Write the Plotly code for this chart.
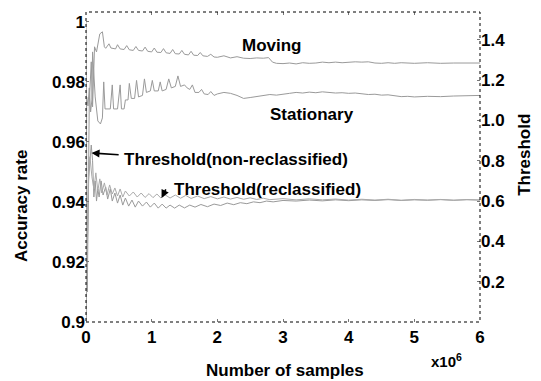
import plotly.graph_objects as go

# ---------------- data (x in units of 10^6 samples) ----------------
moving_x = [0.00, 0.02, 0.05, 0.08, 0.10, 0.13, 0.16, 0.21, 0.25, 0.28,
            0.30, 0.35, 0.38, 0.45, 0.48, 0.52, 0.58, 0.62, 0.66, 0.72, 0.76, 0.80,
            0.86, 0.90, 0.94, 1.00, 1.04, 1.08, 1.14, 1.18, 1.22, 1.28, 1.32, 1.36,
            1.42, 1.46, 1.50, 1.56, 1.60, 1.64, 1.70, 1.74, 1.78, 1.85, 1.90, 1.95,
            2.00, 2.10, 2.20, 2.30, 2.40, 2.50, 2.60, 2.70, 2.78, 2.84, 2.90, 3.00,
            3.10, 3.20, 3.30, 3.40, 3.50, 3.60, 3.70, 3.80, 3.90, 4.00, 4.10, 4.20,
            4.30, 4.40, 4.50, 4.60, 4.70, 4.80, 4.90, 5.00, 5.20, 5.40, 5.60, 5.80, 6.00]
moving_y = [1.000, 0.910, 0.973, 0.9867, 0.9717, 0.9917, 0.9900, 0.9960, 0.9967, 0.9917,
            0.9912, 0.9927, 0.9913, 0.9910, 0.9924, 0.9910, 0.9908, 0.9921, 0.9907, 0.9905, 0.9918, 0.9905,
            0.9903, 0.9916, 0.9902, 0.9900, 0.9913, 0.9899, 0.9898, 0.9911, 0.9897, 0.9895, 0.9908, 0.9894,
            0.9893, 0.9905, 0.9892, 0.9890, 0.9902, 0.9889, 0.9888, 0.9898, 0.9887, 0.9885, 0.9892, 0.9883,
            0.9882, 0.9887, 0.9880, 0.9884, 0.9879, 0.9878, 0.9880, 0.9879, 0.9881, 0.9866, 0.9862, 0.9861,
            0.9863, 0.9860, 0.9864, 0.9862, 0.9863, 0.9866, 0.9864, 0.9866, 0.9864, 0.9866, 0.9867, 0.9866,
            0.9867, 0.9863, 0.9862, 0.9864, 0.9862, 0.9864, 0.9863, 0.9862, 0.9864, 0.9862, 0.9863, 0.9862, 0.9863]

stat_x = [0.00, 0.01, 0.03, 0.05, 0.07, 0.09, 0.10, 0.14, 0.18, 0.22, 0.25, 0.27, 0.29,
          0.33, 0.37, 0.40, 0.42, 0.48, 0.52, 0.54, 0.58, 0.60, 0.64, 0.66, 0.69, 0.74,
          0.77, 0.80, 0.86, 0.89, 0.92, 0.98, 1.01, 1.04, 1.10, 1.13, 1.16, 1.22, 1.26,
          1.30, 1.36, 1.40, 1.44, 1.50, 1.54, 1.58, 1.62, 1.66, 1.72, 1.76, 1.80, 1.86,
          1.90, 1.95, 2.00, 2.10, 2.20, 2.30, 2.40, 2.50, 2.60, 2.70, 2.80, 2.90, 3.00,
          3.10, 3.20, 3.30, 3.40, 3.50, 3.60, 3.70, 3.80, 3.90, 4.00, 4.10, 4.20, 4.30,
          4.40, 4.50, 4.60, 4.70, 4.80, 4.90, 5.00, 5.20, 5.40, 5.60, 5.80, 6.00]
stat_y = [0.900, 0.975, 0.972, 0.978, 0.970, 0.974, 0.990, 0.975, 0.967, 0.966, 0.968, 0.980, 0.971,
          0.971, 0.971, 0.979, 0.971, 0.971, 0.979, 0.971, 0.971, 0.974, 0.974, 0.9795, 0.9745, 0.9745,
          0.9805, 0.9750, 0.9755, 0.9810, 0.9765, 0.9770, 0.9805, 0.9770, 0.9770, 0.9800, 0.9770, 0.9775, 0.9810,
          0.9780, 0.9785, 0.9820, 0.9785, 0.9790, 0.9780, 0.9775, 0.9790, 0.9765, 0.9765, 0.9775, 0.9760, 0.9758,
          0.9768, 0.9755, 0.9760, 0.9765, 0.9762, 0.9755, 0.9745, 0.9748, 0.9752, 0.9755, 0.9758, 0.9756, 0.9760,
          0.9762, 0.9765, 0.9763, 0.9766, 0.9764, 0.9767, 0.9765, 0.9763, 0.9764, 0.9762, 0.9763, 0.9760, 0.9758,
          0.9759, 0.9756, 0.9757, 0.9753, 0.9751, 0.9752, 0.9750, 0.9752, 0.9751, 0.9753, 0.9754, 0.9755]

thr_non_x = [0.00, 0.02, 0.04, 0.06, 0.08, 0.10, 0.12, 0.14, 0.16, 0.18, 0.20, 0.23, 0.26,
             0.30, 0.33, 0.37, 0.40, 0.44, 0.48, 0.52, 0.56, 0.60, 0.65, 0.70, 0.75, 0.80,
             0.86, 0.92, 0.98, 1.04, 1.10, 1.16, 1.22, 1.28, 1.35, 1.42, 1.50, 1.58, 1.66,
             1.75, 1.85, 1.95, 2.05, 2.15, 2.25, 2.35, 2.45, 2.55, 2.65, 2.75, 2.85, 3.00,
             3.20, 3.40, 3.60, 3.80, 4.00, 4.20, 4.40, 4.60, 4.80, 5.00, 5.20, 5.40, 5.60, 5.80, 6.00]
thr_non_y = [0.00, 0.35, 0.70, 0.80, 0.878, 0.80, 0.62, 0.70, 0.60, 0.66, 0.62, 0.70, 0.63,
             0.67, 0.61, 0.66, 0.60, 0.64, 0.59, 0.63, 0.58, 0.615, 0.575, 0.605, 0.57, 0.60,
             0.575, 0.595, 0.57, 0.59, 0.565, 0.585, 0.565, 0.58, 0.565, 0.58, 0.566, 0.58, 0.57,
             0.583, 0.572, 0.585, 0.578, 0.59, 0.582, 0.592, 0.587, 0.596, 0.592, 0.600, 0.596, 0.603,
             0.600, 0.605, 0.601, 0.606, 0.602, 0.606, 0.603, 0.607, 0.603, 0.606, 0.604, 0.607, 0.604, 0.607, 0.605]

thr_re_x = [0.00, 0.02, 0.04, 0.06, 0.09, 0.12, 0.15, 0.18, 0.21, 0.24, 0.28, 0.32, 0.36,
            0.40, 0.44, 0.48, 0.52, 0.56, 0.60, 0.66, 0.72, 0.78, 0.84, 0.90, 0.96, 1.02,
            1.08, 1.14, 1.20, 1.28, 1.36, 1.44, 1.52, 1.60, 1.70, 1.80, 1.90, 2.00, 2.10,
            2.20, 2.30, 2.40, 2.50, 2.60, 2.70, 2.80, 3.00, 3.20, 3.40, 3.60, 3.80, 4.00,
            4.20, 4.40, 4.60, 4.80, 5.00, 5.20, 5.40, 5.60, 5.80, 6.00]
thr_re_y = [0.00, 0.50, 0.75, 0.82, 0.72, 0.66, 0.74, 0.65, 0.71, 0.64, 0.69, 0.63, 0.68,
            0.635, 0.665, 0.625, 0.66, 0.62, 0.65, 0.625, 0.645, 0.62, 0.64, 0.618, 0.637, 0.617,
            0.635, 0.615, 0.632, 0.615, 0.63, 0.614, 0.628, 0.613, 0.625, 0.612, 0.622, 0.611, 0.62,
            0.61, 0.618, 0.609, 0.616, 0.608, 0.614, 0.607, 0.612, 0.606, 0.611, 0.606, 0.610, 0.605,
            0.609, 0.605, 0.609, 0.604, 0.608, 0.605, 0.608, 0.604, 0.607, 0.605]

x_ticks = [0, 1, 2, 3, 4, 5, 6]
left_ticks = [0.9, 0.92, 0.94, 0.96, 0.98, 1.0]
left_labels = ["0.9", "0.92", "0.94", "0.96", "0.98", "1"]
right_ticks = [0.2, 0.4, 0.6, 0.8, 1.0, 1.2, 1.4]
right_labels = ["0.2", "0.4", "0.6", "0.8", "1.0", "1.2", "1.4"]

# ---------------- figure ----------------
FONT = "Liberation Sans, Arial, Helvetica, sans-serif"
gray = "#9a9a9a"

fig = go.Figure()
fig.add_trace(go.Scatter(x=moving_x, y=moving_y, mode="lines",
                         line=dict(color=gray, width=1), name="Moving"))
fig.add_trace(go.Scatter(x=stat_x, y=stat_y, mode="lines",
                         line=dict(color=gray, width=1), name="Stationary"))
fig.add_trace(go.Scatter(x=thr_non_x, y=thr_non_y, mode="lines", yaxis="y2",
                         line=dict(color=gray, width=1), name="Threshold(non-reclassified)"))
fig.add_trace(go.Scatter(x=thr_re_x, y=thr_re_y, mode="lines", yaxis="y2",
                         line=dict(color="#aaaaaa", width=1), name="Threshold(reclassified)"))

tf = dict(family=FONT, size=17, color="black", weight="bold")

fig.update_layout(
    width=541, height=381,
    margin=dict(l=86, r=61, t=12, b=59),
    paper_bgcolor="white", plot_bgcolor="white",
    showlegend=False,
    font=dict(family=FONT, size=17, color="black"),
    xaxis=dict(range=[0, 6], tickvals=x_ticks, ticks="inside", ticklen=3,
               tickcolor="#777", showgrid=False, zeroline=False, showline=False,
               mirror="ticks", tickfont=tf, ticklabelstandoff=3),
    yaxis=dict(range=[0.9, 1.0033], tickvals=left_ticks, ticktext=left_labels,
               ticks="inside", ticklen=3, tickcolor="#777", showgrid=False,
               zeroline=False, showline=False, tickfont=tf),
    yaxis2=dict(range=[0, 1.538], tickvals=right_ticks, ticktext=right_labels,
                overlaying="y", side="right", ticks="inside", ticklen=3,
                tickcolor="#777", showgrid=False, zeroline=False, showline=False,
                tickfont=tf),
)

# dotted frame
fig.add_shape(type="rect", xref="paper", yref="paper", x0=0, y0=0, x1=1, y1=1,
              line=dict(color="black", width=1, dash="dot"))

af = dict(family=FONT, size=17, color="black", weight="bold")
ann = [
    dict(text="Moving", x=2.84, y=0.9923),
    dict(text="Stationary", x=3.44, y=0.969),
    dict(text="Threshold(non-reclassified)", x=2.28, y=0.9543),
    dict(text="Threshold(reclassified)", x=2.77, y=0.9443),
]
for a in ann:
    fig.add_annotation(xref="x", yref="y", showarrow=False, font=af,
                       xanchor="center", yanchor="middle", **a)

# arrows
fig.add_annotation(xref="x", yref="y", axref="x", ayref="y",
                   x=0.084, y=0.95633, ax=0.52, ay=0.9557, text="",
                   showarrow=True, arrowhead=2, arrowsize=1, arrowwidth=1.6,
                   arrowcolor="black")
fig.add_annotation(xref="x", yref="y", axref="x", ayref="y",
                   x=1.151, y=0.94133, ax=1.227, ay=0.94467, text="",
                   showarrow=True, arrowhead=2, arrowsize=1, arrowwidth=1.6,
                   arrowcolor="black")

# axis titles
title_kw = dict(xref="paper", yref="paper", showarrow=False, xanchor="center", yanchor="middle")
fig.add_annotation(x=-0.165, y=0.374, text="Accuracy rate", textangle=-90, font=af, **title_kw)
fig.add_annotation(x=1.114, y=0.539, text="Threshold", textangle=-90, font=af, **title_kw)
fig.add_annotation(x=0.505, y=-0.158, text="Number of samples", font=af, **title_kw)
fig.add_annotation(x=0.914, y=-0.124, text="x10<sup>6</sup>",
                   font=dict(family=FONT, size=15, color="black", weight="bold"), **title_kw)

fig.write_html("out.html", config={"displayModeBar": False},
               post_script="document.body.style.margin='0px';")
